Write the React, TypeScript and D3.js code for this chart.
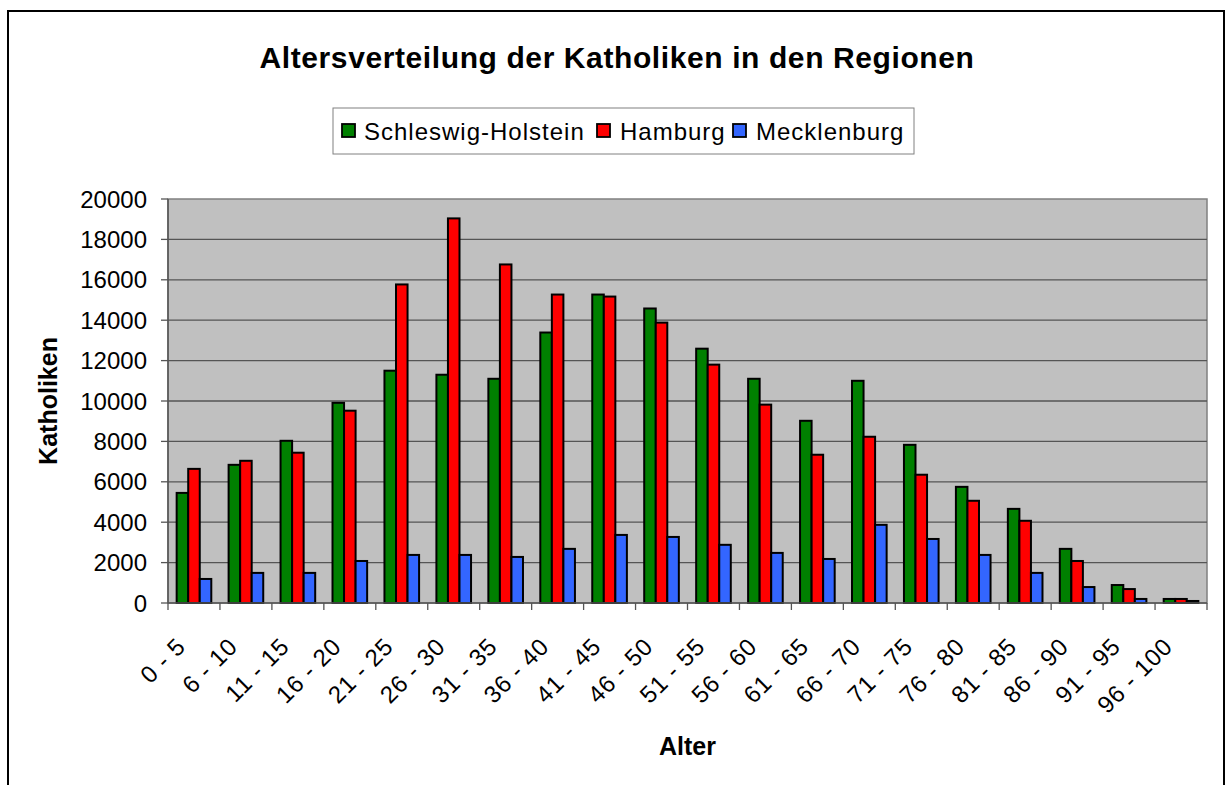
import React from "react";
import * as d3 from "d3";

const ageGroups = [
  "0 - 5", "6 - 10", "11 - 15", "16 - 20", "21 - 25", "26 - 30", "31 - 35",
  "36 - 40", "41 - 45", "46 - 50", "51 - 55", "56 - 60", "61 - 65", "66 - 70",
  "71 - 75", "76 - 80", "81 - 85", "86 - 90", "91 - 95", "96 - 100",
];

const schleswigHolstein = [
  5450, 6840, 8030, 9910, 11500, 11300, 11100, 13390, 15270, 14580,
  12590, 11100, 9020, 11000, 7830, 5750, 4660, 2680, 890, 200,
];
const hamburg = [
  6640, 7040, 7440, 9520, 15770, 19040, 16760, 15270, 15170, 13880,
  11800, 9820, 7340, 8230, 6350, 5060, 4070, 2080, 690, 200,
];
const mecklenburg = [
  1190, 1490, 1490, 2080, 2380, 2380, 2280, 2680, 3370, 3270,
  2880, 2480, 2180, 3870, 3170, 2380, 1490, 790, 200, 100,
];

const seriesNames = ["Schleswig-Holstein", "Hamburg", "Mecklenburg"];
const seriesColors = ["#008000", "#FF0000", "#3366FF"];
const yTicks = [0, 2000, 4000, 6000, 8000, 10000, 12000, 14000, 16000, 18000, 20000];

const W = 1227;
const H = 785;
const plot = { left: 168, right: 1207, top: 199, bottom: 603 };
const font = "Arial, 'Liberation Sans', sans-serif";

export default function App() {
  const series = [schleswigHolstein, hamburg, mecklenburg];

  const x0 = d3.scaleBand<string>().domain(ageGroups).range([plot.left, plot.right]);
  const x1 = d3
    .scaleBand<string>()
    .domain(seriesNames)
    .range([0, x0.bandwidth()])
    .paddingInner(0)
    .paddingOuter(0.75);
  const y = d3.scaleLinear().domain([0, 20000]).range([plot.bottom, plot.top]);

  // legend layout
  const legendItems = [
    { name: seriesNames[0], sx: 342, tx: 364 },
    { name: seriesNames[1], sx: 597, tx: 620 },
    { name: seriesNames[2], sx: 733, tx: 756 },
  ];

  return (
    <svg
      width={W}
      height={H}
      style={{ position: "absolute", left: 0, top: 0, background: "#fff" }}
      fontFamily={font}
    >
      {/* chart area border */}
      <rect x={8} y={11} width={1216} height={800} fill="#fff" stroke="#000" strokeWidth={2} />

      <text x={617} y={68} textAnchor="middle" fontSize={30} fontWeight="bold" letterSpacing={0.6}>
        Altersverteilung der Katholiken in den Regionen
      </text>

      {/* legend */}
      <rect x={333} y={108} width={581} height={46} fill="#fff" stroke="#808080" strokeWidth={1} />
      {legendItems.map((it, i) => (
        <g key={it.name}>
          <rect x={it.sx} y={124} width={13} height={13} fill={seriesColors[i]} stroke="#000" strokeWidth={1.8} />
          <text x={it.tx} y={140} fontSize={24} letterSpacing={1}>
            {it.name}
          </text>
        </g>
      ))}

      {/* plot area */}
      <rect
        x={plot.left}
        y={plot.top}
        width={plot.right - plot.left}
        height={plot.bottom - plot.top}
        fill="#C0C0C0"
        stroke="#808080"
        strokeWidth={1.5}
      />
      {yTicks.map((t) => (
        <g key={t}>
          {t > 0 && t < 20000 && (
            <line x1={plot.left} x2={plot.right} y1={y(t)} y2={y(t)} stroke="#555" strokeWidth={1.3} />
          )}
          <line x1={plot.left - 7} x2={plot.left} y1={y(t)} y2={y(t)} stroke="#555" strokeWidth={1.3} />
          <text x={147} y={y(t)} dy="0.36em" textAnchor="end" fontSize={24}>
            {t}
          </text>
        </g>
      ))}

      {/* bars */}
      {ageGroups.map((g, i) => (
        <g key={g} transform={`translate(${x0(g)},0)`}>
          {series.map((s, k) => (
            <rect
              key={k}
              x={x1(seriesNames[k])}
              y={y(s[i])}
              width={x1.bandwidth()}
              height={y(0) - y(s[i])}
              fill={seriesColors[k]}
              stroke="#000"
              strokeWidth={2}
            />
          ))}
        </g>
      ))}

      {/* axes */}
      <line x1={plot.left} x2={plot.left} y1={plot.top} y2={plot.bottom} stroke="#555" strokeWidth={1.5} />
      <line x1={plot.left} x2={plot.right} y1={plot.bottom} y2={plot.bottom} stroke="#555" strokeWidth={1.5} />
      {[...ageGroups.map((g) => x0(g) as number), plot.right].map((xv, i) => (
        <line key={i} x1={xv} x2={xv} y1={plot.bottom} y2={plot.bottom + 7} stroke="#555" strokeWidth={1.3} />
      ))}
      {ageGroups.map((g) => {
        const cx = (x0(g) as number) + x0.bandwidth() / 2 - 7;
        return (
          <text
            key={g}
            transform={`translate(${cx},648) rotate(-45)`}
            textAnchor="end"
            fontSize={24}
            letterSpacing={0.8}
          >
            {g}
          </text>
        );
      })}

      <text
        transform={`translate(57,${(plot.top + plot.bottom) / 2}) rotate(-90)`}
        textAnchor="middle"
        fontSize={25}
        fontWeight="bold"
      >
        Katholiken
      </text>
      <text x={(plot.left + plot.right) / 2} y={755} textAnchor="middle" fontSize={25} fontWeight="bold">
        Alter
      </text>
    </svg>
  );
}
